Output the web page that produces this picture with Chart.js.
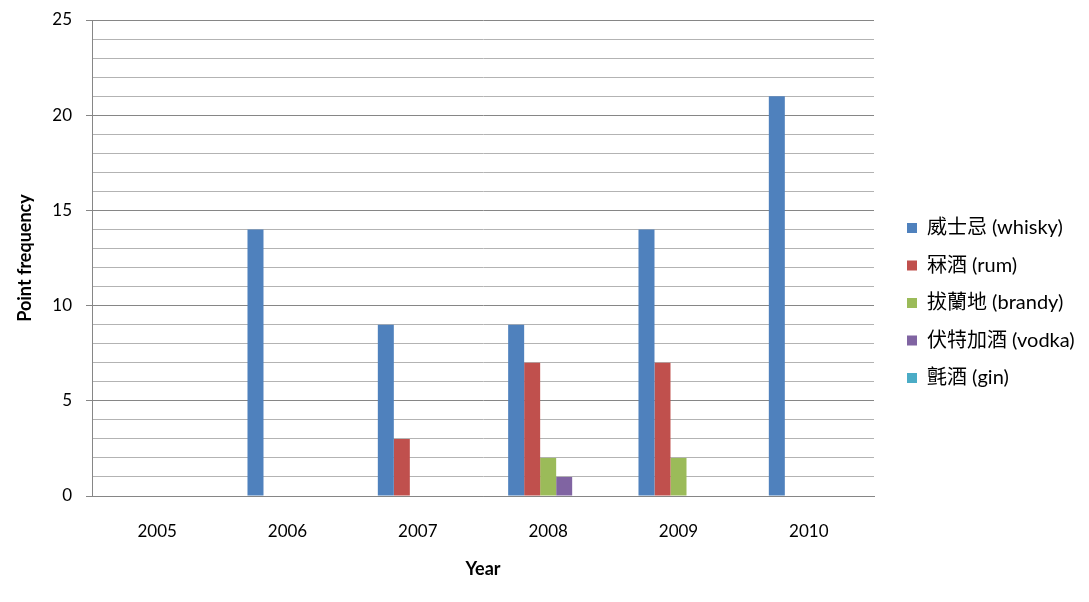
<!DOCTYPE html>
<html>
<head>
<meta charset="utf-8">
<script src="https://cdn.jsdelivr.net/npm/chart.js@4"></script>
<style>
html,body{margin:0;padding:0;background:#fff;}
#wrap{width:1089px;height:602px;}
</style>
</head>
<body>
<div id="wrap"><canvas id="c" width="1089" height="602"></canvas></div>
<script>
const years = ['2005','2006','2007','2008','2009','2010'];
const seriesNames = ['威士忌 (whisky)','冧酒 (rum)','拔蘭地 (brandy)','伏特加酒 (vodka)','氈酒 (gin)'];
const whisky = [0,14,9,9,14,21];
const rum    = [0,0,3,7,7,0];
const brandy = [0,0,0,2,2,0];
const vodka  = [0,0,0,1,0,0];
const gin    = [0,0,0,0,0,0];
const colors = ['#4F81BD','#C0504D','#9BBB59','#8064A2','#4BACC6'];
const yTitle = 'Point frequency';
const xTitle = 'Year';

const FONT = "Lato, 'Noto Sans CJK TC', sans-serif";
const values = [whisky, rum, brandy, vodka, gin];

const LEGEND_W = 199.5;
const legendWidth = {
  id: 'legendWidth',
  beforeLayout(chart) {
    const lg = chart.legend;
    if (lg && !lg._fixedW) {
      const f = lg.fit;
      lg.fit = function () { f.call(this); this.width = LEGEND_W; };
      lg._fixedW = true;
    }
  }
};

new Chart(document.getElementById('c'), {
  type: 'bar',
  data: {
    labels: years,
    datasets: values.map((v,i)=>({
      label: seriesNames[i],
      data: v,
      backgroundColor: colors[i],
      borderWidth: 0,
      barPercentage: 1,
      categoryPercentage: 0.614
    }))
  },
  plugins: [legendWidth],
  options: {
    responsive: false,
    animation: false,
    devicePixelRatio: 1,
    layout: { padding: { left: 10, right: 0, top: 20, bottom: 16 } },
    plugins: {
      tooltip: { enabled: false },
      legend: {
        position: 'right',
        align: 'center',
        labels: {
          boxWidth: 10, boxHeight: 10,
          padding: 17.5,
          color: '#000',
          font: { family: FONT, size: 20 }
        }
      }
    },
    scales: {
      x: {
        grid: { display: false, drawTicks: false },
        border: { display: true, color: '#868686', width: 1 },
        ticks: { color: '#000', padding: 25, font: { family: FONT, size: 17 } },
        title: { display: true, text: xTitle, color: '#000', padding: { top: 0, bottom: 6 },
                 font: { family: FONT, size: 18, weight: 'bold' } },
        afterFit: s => { s.height = 90; }
      },
      y: {
        min: 0, max: 25,
        grid: {
          color: ctx => (ctx.tick && ctx.tick.value % 5 === 0) ? '#868686' : '#b3b3b3',
          tickColor: ctx => (ctx.tick && ctx.tick.value % 5 === 0) ? '#868686' : 'rgba(0,0,0,0)',
          tickLength: 6,
          lineWidth: 1
        },
        border: { display: true, color: '#868686', width: 1 },
        ticks: {
          stepSize: 1, autoSkip: false, color: '#000', padding: 14,
          font: { family: FONT, size: 17 },
          callback: v => (v % 5 === 0 ? String(v) : '')
        },
        title: { display: true, text: yTitle, color: '#000', padding: { top: 4, bottom: 0 },
                 font: { family: FONT, size: 18, weight: 'bold' } },
        afterFit: s => { s.width = 82; s.paddingTop = 0; s.paddingBottom = 0; }
      },
      yR: {
        position: 'right',
        display: true,
        grid: { display: false, drawTicks: false },
        border: { display: false },
        ticks: { display: false },
        afterFit: s => { s.width = 15.5; }
      }
    }
  }
});
</script>
</body>
</html>
